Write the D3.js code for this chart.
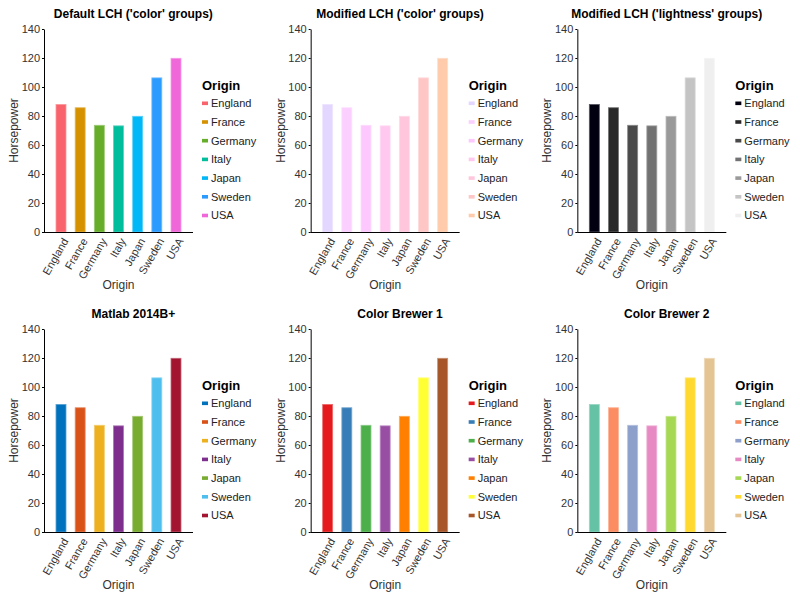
<!DOCTYPE html>
<html><head><meta charset="utf-8">
<script src="https://cdn.jsdelivr.net/npm/d3@7"></script>
<style>body{margin:0;background:#fff}svg{display:block;font-family:"Liberation Sans",Arial,sans-serif}</style>
</head><body><svg id="c" width="800" height="600"></svg>
<script>
const categories = ["England","France","Germany","Italy","Japan","Sweden","USA"];
const horsepower = [88.0, 85.7, 73.6, 73.2, 79.8, 106.3, 119.8];
const yTicks = [0,20,40,60,80,100,120,140];
const titles = ["Default LCH ('color' groups)","Modified LCH ('color' groups)","Modified LCH ('lightness' groups)","Matlab 2014B+","Color Brewer 1","Color Brewer 2"];
const palDefault = ["#F9636B","#D69100","#66AD2A","#00BD9B","#00B8F7","#2C9BFF","#F067DA"];
const palModColor = ["#E3D6FF","#FBCFFF","#FDC8FD","#FFC8EE","#FFC6DC","#FFC6C6","#FFCBAB"];
const palModLight = ["#000010","#282828","#4A4A4A","#727272","#9A9A9A","#C4C4C4","#EFEFEF"];
const palMatlab = ["#0072BD","#D95319","#EDB120","#7E2F8E","#77AC30","#4DBEEE","#A2142F"];
const palBrewer1 = ["#E41A1C","#377EB8","#4DAF4A","#984EA3","#FF7F00","#FFFF33","#A65628"];
const palBrewer2 = ["#66C2A5","#FC8D62","#8DA0CB","#E78AC3","#A6D854","#FFD92F","#E5C494"];
const palettes = [palDefault,palModColor,palModLight,palMatlab,palBrewer1,palBrewer2];
const xLabel = "Origin", yLabel = "Horsepower", legendTitle = "Origin";

const svg = d3.select("#c");
const pw = 800/3, ph = 300;
titles.forEach((t,i)=>{
  const col = i%3, row = Math.floor(i/3);
  const g = svg.append("g").attr("transform",`translate(${col*pw},${row*ph})`);
  const L=44, R=193, T=29, B=232;
  const x = d3.scalePoint().domain(categories).range([L,R]).padding(0.887);
  const y = d3.scaleLinear().domain([0,140]).range([B,T]);
  const pal = palettes[i];
  g.append("text").attr("x",pw/2).attr("y",18).attr("text-anchor","middle")
    .attr("font-weight","bold").attr("font-size",12).text(t);
  const bw = 10;
  g.selectAll("rect.bar").data(categories).join("rect").attr("class","bar")
    .attr("x",d=>x(d)-bw/2).attr("width",bw)
    .attr("y",(d,j)=>y(horsepower[j])).attr("height",(d,j)=>B-y(horsepower[j]))
    .attr("fill",(d,j)=>pal[j])
    .attr("stroke",(d,j)=>d3.interpolateRgb(pal[j],"#fff")(0.35)).attr("stroke-width",0.8);
  const ya = g.append("g").attr("transform",`translate(${L},0)`)
    .call(d3.axisLeft(y).tickValues(yTicks).tickSize(2).tickSizeOuter(0));
  ya.select(".domain").attr("stroke","#000");
  ya.selectAll("text").attr("font-size",11).attr("fill","#333").attr("font-family","Liberation Sans, Arial, sans-serif").attr("x",-4);
  const xa = g.append("g").attr("transform",`translate(0,${B})`)
    .call(d3.axisBottom(x).tickSize(0).tickSizeOuter(0));
  xa.select(".domain").attr("stroke","#000").attr("d",`M${L},0.5H${R}`);
  xa.selectAll("text").attr("font-size",11).attr("fill","#333").attr("font-family","Liberation Sans, Arial, sans-serif")
    .attr("text-anchor","end").attr("dy","0.35em").attr("y",0)
    .attr("transform","translate(4,7) rotate(-60)");
  g.append("text").attr("x",(L+R)/2).attr("y",289).attr("text-anchor","middle")
    .attr("font-size",12).attr("fill","#333").text(xLabel);
  g.append("text").attr("transform",`translate(18,${(T+B)/2}) rotate(-90)`).attr("text-anchor","middle")
    .attr("font-size",12).attr("fill","#333").text(yLabel);
  const lg = g.append("g").attr("transform","translate(202,0)");
  lg.append("text").attr("x",0).attr("y",90).attr("font-weight","bold").attr("font-size",13).text(legendTitle);
  categories.forEach((c,j)=>{
    const cy = 103.3 + j*18.7;
    lg.append("rect").attr("x",0).attr("y",cy-1.8).attr("width",6).attr("height",3.6).attr("fill",pal[j]);
    lg.append("text").attr("x",9).attr("y",cy).attr("dy","0.35em").attr("font-size",11).attr("fill","#222").text(c);
  });
});
</script></body></html>
